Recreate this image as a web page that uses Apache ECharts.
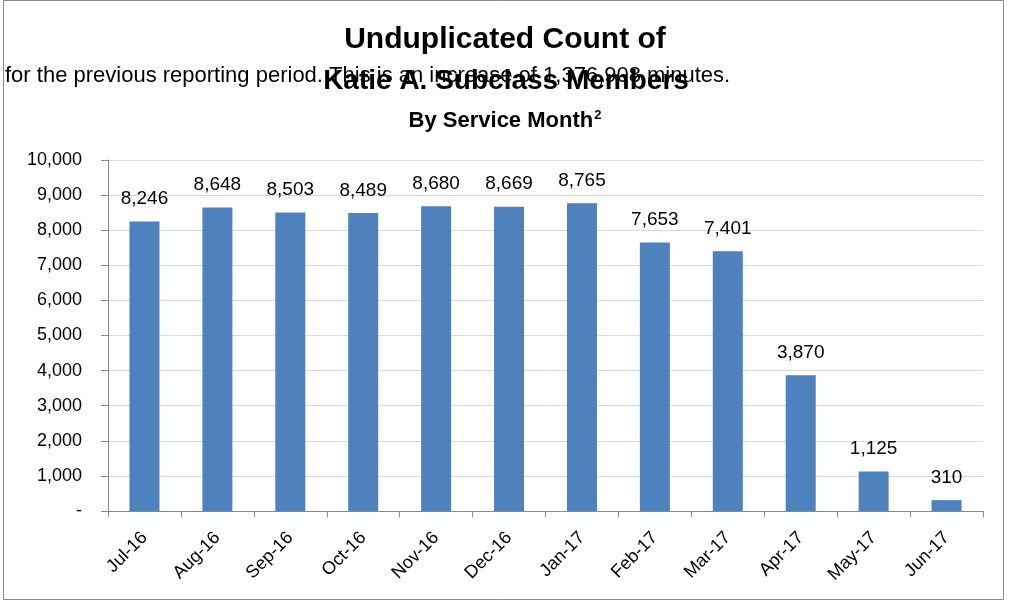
<!DOCTYPE html>
<html><head><meta charset="utf-8">
<script src="https://cdn.jsdelivr.net/npm/echarts@6/dist/echarts.min.js"></script>
<style>html,body{margin:0;padding:0;background:#fff}#c{width:1009px;height:604px}</style>
</head><body><div id="c"></div>
<script>
var categories = ['Jul-16','Aug-16','Sep-16','Oct-16','Nov-16','Dec-16','Jan-17','Feb-17','Mar-17','Apr-17','May-17','Jun-17'];
var members = [8246, 8648, 8503, 8489, 8680, 8669, 8765, 7653, 7401, 3870, 1125, 310];
var yTicks = [0,1000,2000,3000,4000,5000,6000,7000,8000,9000,10000];
var FONT = '"Liberation Sans", Arial, sans-serif';
function fmt(v){ return v === 0 ? '-' : v.toLocaleString('en-US'); }
var chart = echarts.init(document.getElementById('c'));
chart.setOption({
  animation:false,
  textStyle:{fontFamily:FONT},
  graphic:[
    {type:'rect', shape:{x:3.5,y:0.5,width:1000,height:599}, style:{fill:'none',stroke:'#8c8c8c',lineWidth:1}},
    {type:'text', x:505, y:55, style:{text:'Unduplicated Count of', font:'bold 30px '+FONT, fill:'#000', textAlign:'center', textVerticalAlign:'bottom'}},
    {type:'text', x:506, y:95, style:{text:'Katie A. Subclass Members', font:'bold 28px '+FONT, fill:'#000', textAlign:'center', textVerticalAlign:'bottom'}},
    {type:'text', x:505, y:109, style:{rich:{a:{font:'bold 22px '+FONT,fill:'#000',lineHeight:24},s:{font:'bold 13px '+FONT,fill:'#000',verticalAlign:'top',padding:[0,0,10,1],lineHeight:24}}, text:'{a|By Service Month}{s|2}', align:'center', verticalAlign:'top'}},
    {type:'text', x:5, y:76, style:{text:'for the previous reporting period. This is an increase of 1,376,908 minutes.', font:'22px '+FONT, fill:'#000', textVerticalAlign:'middle'}}
  ],
  grid:{left:108, right:26, top:160, bottom:93},
  xAxis:{
    type:'category', data:categories,
    axisLine:{lineStyle:{color:'#888'}},
    axisTick:{show:true, alignWithLabel:false, length:6, lineStyle:{color:'#888'}},
    axisLabel:{rotate:45, fontSize:18, color:'#000', margin:24, fontFamily:FONT}
  },
  yAxis:{
    type:'value', min:0, max:10000, interval:1000,
    axisLine:{show:true, lineStyle:{color:'#888'}},
    axisTick:{show:true, length:7, lineStyle:{color:'#888'}},
    splitLine:{lineStyle:{color:'#d9d9d9'}},
    axisLabel:{fontSize:18, color:'#000', margin:26, fontFamily:FONT, formatter:function(v){return fmt(v);}}
  },
  series:[{
    type:'bar', data:members, barWidth:30,
    itemStyle:{color:'#4f81bd'},
    label:{show:true, position:'top', distance:13, fontSize:19, color:'#000', fontFamily:FONT, formatter:function(p){return fmt(p.value);}}
  }]
});
</script></body></html>
